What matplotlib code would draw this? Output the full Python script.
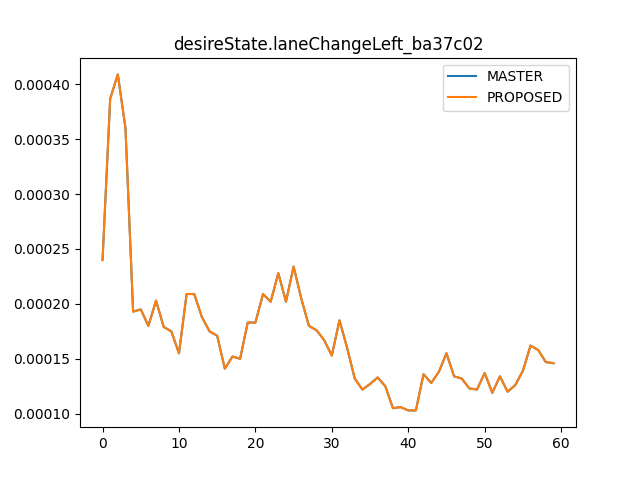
import matplotlib
matplotlib.use("Agg")
import matplotlib.pyplot as plt

title = "desireState.laneChangeLeft_ba37c02"

master = [0.000240, 0.000387, 0.000409, 0.000360, 0.000193, 0.000195, 0.000180, 0.000203,
          0.000179, 0.000175, 0.000155, 0.000209, 0.000209, 0.000188, 0.000175, 0.000171,
          0.000141, 0.000152, 0.000150, 0.000183, 0.000183, 0.000209, 0.000202, 0.000228,
          0.000202, 0.000234, 0.000205, 0.000180, 0.000176, 0.000167, 0.000153, 0.000185,
          0.000160, 0.000132, 0.000122, 0.000127, 0.000133, 0.000125, 0.000105, 0.000106,
          0.000103, 0.000103, 0.000136, 0.000128, 0.000138, 0.000155, 0.000134, 0.000132,
          0.000123, 0.000122, 0.000137, 0.000119, 0.000134, 0.000120, 0.000126, 0.000139,
          0.000162, 0.000158, 0.000147, 0.000146]
proposed = list(master)

fig = plt.figure(figsize=(6.4, 4.8), dpi=100)
plt.plot(master, label="MASTER")
plt.plot(proposed, label="PROPOSED")
plt.title(title)
plt.legend()
plt.savefig("out.png")
